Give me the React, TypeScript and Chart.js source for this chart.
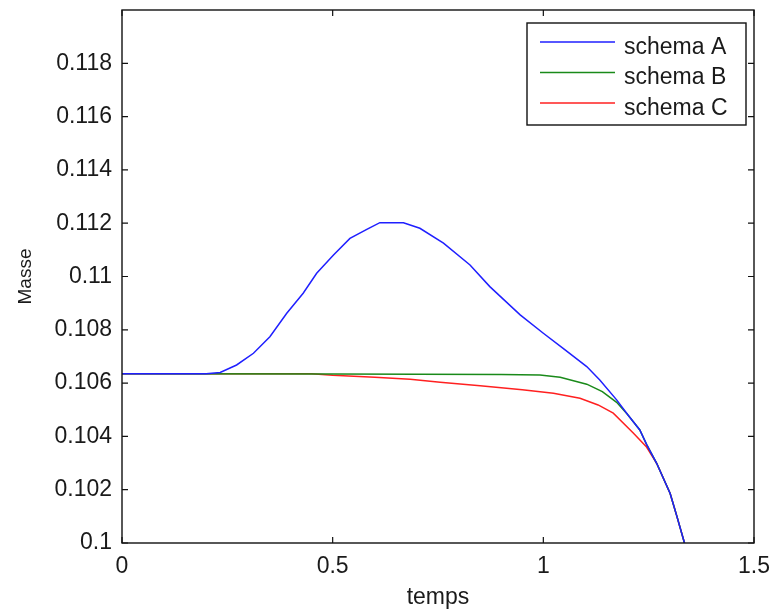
import React, { useEffect, useRef } from "react";
import { Chart, registerables } from "chart.js";

Chart.register(...registerables);

// ---- Data ----
const tA = [0, 0.1, 0.2, 0.233, 0.272, 0.312, 0.351, 0.391, 0.43, 0.462, 0.502, 0.541, 0.581, 0.612, 0.668, 0.707, 0.763, 0.826, 0.873, 0.945, 1.0, 1.047, 1.103, 1.134, 1.174, 1.2, 1.229, 1.245, 1.269, 1.301, 1.317, 1.335];
const massA = [0.10635, 0.10635, 0.10635, 0.1064, 0.10668, 0.10712, 0.10774, 0.10862, 0.10937, 0.11012, 0.11081, 0.11143, 0.11177, 0.11202, 0.11202, 0.11181, 0.11125, 0.11043, 0.10962, 0.10856, 0.10787, 0.1073, 0.10662, 0.10612, 0.10537, 0.10482, 0.10424, 0.1037, 0.10299, 0.10186, 0.101, 0.1];

const tB = [0, 0.5, 0.9, 0.992, 1.04, 1.103, 1.14, 1.174, 1.2, 1.229, 1.245, 1.269, 1.301, 1.317, 1.335];
const massB = [0.10635, 0.10634, 0.10632, 0.1063, 0.10622, 0.10596, 0.10568, 0.10528, 0.10482, 0.10424, 0.1037, 0.10299, 0.10186, 0.101, 0.1];

const tC = [0, 0.45, 0.5, 0.6, 0.684, 0.755, 0.85, 0.95, 1.024, 1.087, 1.13, 1.166, 1.214, 1.245, 1.269, 1.301, 1.317, 1.335];
const massC = [0.10635, 0.10635, 0.10629, 0.10622, 0.10614, 0.10603, 0.1059, 0.10575, 0.10562, 0.10543, 0.10518, 0.10487, 0.10412, 0.1036, 0.10299, 0.10186, 0.101, 0.1];

const seriesLabels = ["schema A", "schema B", "schema C"];
const seriesColors = ["#1f1fff", "#1a8a1a", "#ff2020"];

const xTicks = [0, 0.5, 1, 1.5];
const yTicks = [0.1, 0.102, 0.104, 0.106, 0.108, 0.11, 0.112, 0.114, 0.116, 0.118];

const xTitle = "temps";
const yTitle = "Masse";

const FONT = "'Liberation Sans', Arial, Helvetica, sans-serif";
const TEXT = "#1a1a1a";

const toPoints = (t: number[], m: number[]) => t.map((x, i) => ({ x, y: m[i] }));

const framePlugin = {
  id: "matlabFrame",
  afterDatasetsDraw(chart: any) {
    const { ctx, chartArea: a, scales } = chart;
    ctx.save();
    // frame
    ctx.strokeStyle = "#111";
    ctx.lineWidth = 1.4;
    ctx.strokeRect(a.left, a.top, a.right - a.left, a.bottom - a.top);
    // inward ticks
    const L = 6;
    ctx.lineWidth = 1.2;
    ctx.beginPath();
    xTicks.forEach((v) => {
      const x = scales.x.getPixelForValue(v);
      ctx.moveTo(x, a.bottom);
      ctx.lineTo(x, a.bottom - L);
      ctx.moveTo(x, a.top);
      ctx.lineTo(x, a.top + L);
    });
    yTicks.forEach((v) => {
      const y = scales.y.getPixelForValue(v);
      ctx.moveTo(a.left, y);
      ctx.lineTo(a.left + L, y);
      ctx.moveTo(a.right, y);
      ctx.lineTo(a.right - L, y);
    });
    ctx.stroke();

    // legend box
    const bw = 219;
    const bh = 102;
    const bx = a.right - 8 - bw;
    const by = a.top + 13;
    ctx.fillStyle = "#fff";
    ctx.fillRect(bx, by, bw, bh);
    ctx.strokeStyle = "#111";
    ctx.lineWidth = 1.4;
    ctx.strokeRect(bx, by, bw, bh);
    ctx.font = `23px ${FONT}`;
    ctx.textBaseline = "alphabetic";
    ctx.textAlign = "left";
    chart.data.datasets.forEach((ds: any, i: number) => {
      const ry = by + 19 + i * 30.5;
      ctx.strokeStyle = ds.borderColor;
      ctx.lineWidth = 1.5;
      ctx.beginPath();
      ctx.moveTo(bx + 13, ry);
      ctx.lineTo(bx + 88, ry);
      ctx.stroke();
      ctx.fillStyle = TEXT;
      ctx.fillText(ds.label, bx + 97, ry + 11.5);
    });
    ctx.restore();
  },
};

export default function App() {
  const ref = useRef<HTMLCanvasElement | null>(null);

  useEffect(() => {
    document.body.style.margin = "0";
    const canvas = ref.current;
    if (!canvas) return;
    const series = [
      toPoints(tA, massA),
      toPoints(tB, massB),
      toPoints(tC, massC),
    ];
    const chart = new Chart(canvas, {
      type: "line",
      data: {
        datasets: series.map((d, i) => ({
          label: seriesLabels[i],
          data: d,
          borderColor: seriesColors[i],
          backgroundColor: seriesColors[i],
          borderWidth: 1.5,
          pointRadius: 0,
          tension: 0,
          fill: false,
        })),
      },
      options: {
        animation: false,
        responsive: false,
        devicePixelRatio: 1,
        parsing: false as any,
        layout: { padding: { top: 10, right: 20, left: 0, bottom: 0 } },
        plugins: {
          legend: { display: false },
          tooltip: { enabled: false },
        },
        scales: {
          x: {
            type: "linear",
            min: 0,
            max: 1.5,
            grid: { display: false, drawTicks: false, tickLength: 0 },
            border: { display: false },
            afterBuildTicks: (s: any) => {
              s.ticks = xTicks.map((v) => ({ value: v }));
            },
            afterFit: (s: any) => {
              s.height = 71;
              s.paddingLeft = 0;
              s.paddingRight = 0;
            },
            ticks: {
              padding: 10,
              autoSkip: false,
              maxRotation: 0,
              color: TEXT,
              font: { family: FONT, size: 23 },
              callback: (v: any) => String(+Number(v).toFixed(3)),
            },
            title: {
              display: true,
              text: xTitle,
              color: TEXT,
              font: { family: FONT, size: 23 },
              padding: { top: 0, bottom: 3 },
            },
          },
          y: {
            type: "linear",
            min: 0.1,
            max: 0.12,
            grid: { display: false, drawTicks: false, tickLength: 0 },
            border: { display: false },
            afterBuildTicks: (s: any) => {
              s.ticks = yTicks.map((v) => ({ value: v }));
            },
            afterFit: (s: any) => {
              s.width = 122;
              s.paddingTop = 0;
              s.paddingBottom = 0;
            },
            ticks: {
              padding: 10,
              autoSkip: false,
              color: TEXT,
              font: { family: FONT, size: 23 },
              callback: (v: any) => String(+Number(v).toFixed(3)),
            },
            title: {
              display: true,
              text: yTitle,
              color: TEXT,
              font: { family: FONT, size: 19 },
              padding: { top: 14, bottom: 0 },
            },
          },
        },
      },
      plugins: [framePlugin],
    });
    return () => chart.destroy();
  }, []);

  return (
    <div style={{ width: 774, height: 614 }}>
      <canvas ref={ref} width={774} height={614} style={{ display: "block" }} />
    </div>
  );
}
